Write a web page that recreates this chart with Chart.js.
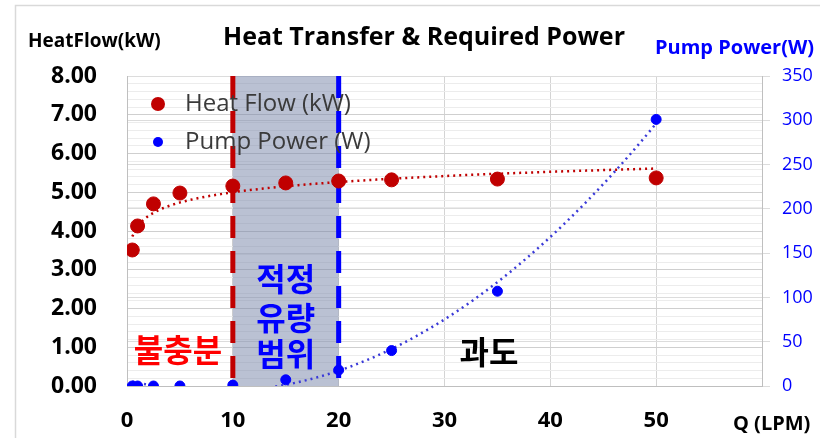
<!DOCTYPE html>
<html>
<head>
<meta charset="utf-8">
<script src="https://cdn.jsdelivr.net/npm/chart.js@4.4.1/dist/chart.umd.min.js"></script>
<style>
  html, body { margin: 0; padding: 0; background: #fff; }
  #wrap { width: 820px; height: 438px; position: relative; }
</style>
</head>
<body>
<div id="wrap"><canvas id="chart" width="820" height="438"></canvas></div>
<script>
// flow rate (LPM) shared by both series
const flowRates = [0.5, 1, 2.5, 5, 10, 15, 20, 25, 35, 50];
const heatFlow = [3.51, 4.13, 4.70, 4.98, 5.16, 5.24, 5.29, 5.32, 5.34, 5.37];
const pumpPower = [0, 0, 0, 0, 1, 7, 18, 40, 107, 301];

const xTicks = [0, 10, 20, 30, 40, 50];
const heatTicks = ['0.00', '1.00', '2.00', '3.00', '4.00', '5.00', '6.00', '7.00', '8.00'];
const pumpTicks = [0, 50, 100, 150, 200, 250, 300, 350];

// optimal flow band (LPM)
const bandStart = 10;
const bandEnd = 20;

const LATIN = "'Open Sans', 'Noto Sans CJK KR', sans-serif";
const KOREAN = "'Noto Sans CJK KR', sans-serif";

// least squares: y = a*ln(x) + b
function logFit(xs, ys) {
  const lx = xs.map(Math.log);
  const n = xs.length;
  const mx = lx.reduce((s, v) => s + v, 0) / n;
  const my = ys.reduce((s, v) => s + v, 0) / n;
  let sxy = 0, sxx = 0;
  for (let i = 0; i < n; i++) {
    sxy += (lx[i] - mx) * (ys[i] - my);
    sxx += (lx[i] - mx) * (lx[i] - mx);
  }
  const a = sxy / sxx;
  const b = my - a * mx;
  return x => a * Math.log(x) + b;
}

// least squares: y = c0 + c1*x + c2*x^2
function quadFit(xs, ys) {
  const S = [0, 0, 0, 0, 0], T = [0, 0, 0];
  for (let i = 0; i < xs.length; i++) {
    let p = 1;
    for (let k = 0; k < 5; k++) { S[k] += p; if (k < 3) T[k] += p * ys[i]; p *= xs[i]; }
  }
  const M = [[S[0], S[1], S[2], T[0]], [S[1], S[2], S[3], T[1]], [S[2], S[3], S[4], T[2]]];
  for (let i = 0; i < 3; i++) {
    for (let j = i + 1; j < 3; j++) {
      const f = M[j][i] / M[i][i];
      for (let k = i; k < 4; k++) M[j][k] -= f * M[i][k];
    }
  }
  const c = [0, 0, 0];
  for (let i = 2; i >= 0; i--) {
    let s = M[i][3];
    for (let k = i + 1; k < 3; k++) s -= M[i][k] * c[k];
    c[i] = s / M[i][i];
  }
  return x => c[0] + c[1] * x + c[2] * x * x;
}

function trendPoints(fn, from, to, steps) {
  const pts = [];
  for (let i = 0; i <= steps; i++) {
    const x = from + (to - from) * i / steps;
    pts.push({ x: x, y: fn(x) });
  }
  return pts;
}

const heatTrend = trendPoints(logFit(flowRates, heatFlow), flowRates[0], flowRates[flowRates.length - 1], 120);
const pumpTrend = trendPoints(quadFit(flowRates, pumpPower), flowRates[0], flowRates[flowRates.length - 1], 120);

// shaded band, dashed markers and text labels behind/over the plot
const decorPlugin = {
  id: 'decor',
  beforeDatasetsDraw(chart) {
    const { ctx, chartArea: a, scales: { x } } = chart;
    const x0 = x.getPixelForValue(bandStart);
    const x1 = x.getPixelForValue(bandEnd);
    ctx.save();
    ctx.fillStyle = 'rgba(118,132,168,0.5)';
    ctx.fillRect(x0, a.top, x1 - x0, a.bottom - a.top);
    ctx.lineWidth = 5;
    ctx.setLineDash([22, 13]);
    ctx.strokeStyle = '#c00000';
    ctx.beginPath(); ctx.moveTo(x0, a.top); ctx.lineTo(x0, a.bottom); ctx.stroke();
    ctx.strokeStyle = '#0000ff';
    ctx.beginPath(); ctx.moveTo(x1, a.top); ctx.lineTo(x1, a.bottom); ctx.stroke();
    ctx.restore();
  },
  afterDraw(chart) {
    const { ctx, chartArea: a, scales: { x } } = chart;
    ctx.save();
    // outer frame
    ctx.strokeStyle = '#d9d9d9';
    ctx.lineWidth = 1.5;
    ctx.beginPath();
    ctx.moveTo(15.5, 440); ctx.lineTo(15.5, 5.5); ctx.lineTo(822, 5.5);
    ctx.stroke();

    ctx.textBaseline = 'middle';
    ctx.fillStyle = '#000';
    ctx.textAlign = 'center';
    ctx.font = 'bold 25px ' + LATIN;
    ctx.fillText('Heat Transfer & Required Power', 424, 38);
    ctx.textAlign = 'left';
    ctx.font = 'bold 19px ' + LATIN;
    ctx.fillText('HeatFlow(kW)', 28, 42);
    ctx.font = 'bold 20px ' + LATIN;
    ctx.fillText('Q (LPM)', 733, 424);
    ctx.fillStyle = '#0000ff';
    ctx.fillText('Pump Power(W)', 655, 48);

    // legend
    ctx.font = '24px ' + LATIN;
    ctx.fillStyle = '#3a3a3a';
    ctx.fillText(chart.data.datasets[0].label, 185, 104);
    ctx.fillText(chart.data.datasets[1].label, 185, 142);
    ctx.fillStyle = '#c00000';
    ctx.beginPath(); ctx.arc(158, 104, 7, 0, Math.PI * 2); ctx.fill();
    ctx.fillStyle = '#0000ff';
    ctx.beginPath(); ctx.arc(158, 142, 5, 0, Math.PI * 2); ctx.fill();

    // region labels
    ctx.textAlign = 'center';
    ctx.font = 'bold 32px ' + KOREAN;
    ctx.fillStyle = '#ff0000';
    ctx.fillText('불충분', 178, 350);
    ctx.fillStyle = '#0000ff';
    const mid = (x.getPixelForValue(bandStart) + x.getPixelForValue(bandEnd)) / 2;
    ctx.fillText('적정', mid, 279);
    ctx.fillText('유량', mid, 318);
    ctx.fillText('범위', mid, 354);
    ctx.fillStyle = '#000';
    ctx.fillText('과도', 489, 352);
    ctx.restore();
  }
};

new Chart(document.getElementById('chart'), {
  type: 'scatter',
  data: {
    datasets: [
      {
        label: 'Heat Flow (kW)',
        data: flowRates.map((q, i) => ({ x: q, y: heatFlow[i] })),
        yAxisID: 'y',
        backgroundColor: '#c00000',
        borderColor: '#c00000',
        pointRadius: 7,
        order: 1
      },
      {
        label: 'Pump Power (W)',
        data: flowRates.map((q, i) => ({ x: q, y: pumpPower[i] })),
        yAxisID: 'y1',
        backgroundColor: '#0000ff',
        borderColor: '#0000ff',
        pointRadius: 5,
        order: 0
      },
      {
        label: 'heat trend',
        data: heatTrend,
        yAxisID: 'y',
        showLine: true,
        pointRadius: 0,
        borderColor: '#c00000',
        borderWidth: 2.5,
        borderDash: [2, 4],
        order: 2
      },
      {
        label: 'pump trend',
        data: pumpTrend,
        yAxisID: 'y1',
        showLine: true,
        pointRadius: 0,
        borderColor: '#3a3ad8',
        borderWidth: 2.5,
        borderDash: [2, 4],
        order: 2
      }
    ]
  },
  options: {
    responsive: false,
    animation: false,
    layout: { padding: { top: 76, left: 0, right: 0, bottom: 0 } },
    plugins: {
      legend: { display: false },
      title: { display: false },
      tooltip: { enabled: false }
    },
    scales: {
      x: {
        type: 'linear',
        min: 0,
        max: 60,
        afterBuildTicks: s => { s.ticks = xTicks.concat([60]).map(v => ({ value: v })); },
        afterFit: s => { s.height = 52; },
        grid: { color: '#d4d4d4', drawTicks: false },
        border: { color: '#bfbfbf' },
        ticks: {
          padding: 22,
          color: '#000',
          font: { family: LATIN, size: 22, weight: 'bold' },
          callback: v => (xTicks.includes(v) ? String(v) : '')
        }
      },
      y: {
        position: 'left',
        min: 0,
        max: 8,
        afterBuildTicks: s => {
          const t = [];
          for (let i = 0; i <= 40; i++) t.push({ value: i / 5 });
          s.ticks = t;
        },
        afterFit: s => { s.width = 127; },
        grid: {
          drawTicks: false,
          color: c => (Math.abs(c.tick.value - Math.round(c.tick.value)) < 1e-6 ? '#cfcfcf' : '#ececec')
        },
        border: { color: '#bfbfbf' },
        ticks: {
          padding: 30,
          color: '#000',
          autoSkip: false,
          font: { family: LATIN, size: 23, weight: 'bold' },
          callback: v => {
            const r = Math.round(v);
            return Math.abs(v - r) < 1e-6 ? heatTicks[r] : '';
          }
        }
      },
      y1: {
        position: 'right',
        min: 0,
        max: 350,
        afterBuildTicks: s => { s.ticks = pumpTicks.map(v => ({ value: v })); },
        afterFit: s => { s.width = 58; },
        grid: { color: '#dcdcdc', tickLength: 8 },
        border: { color: '#bfbfbf' },
        ticks: {
          padding: 12,
          color: '#0000ff',
          font: { family: LATIN, size: 18 }
        }
      }
    }
  },
  plugins: [decorPlugin]
});
</script>
</body>
</html>
